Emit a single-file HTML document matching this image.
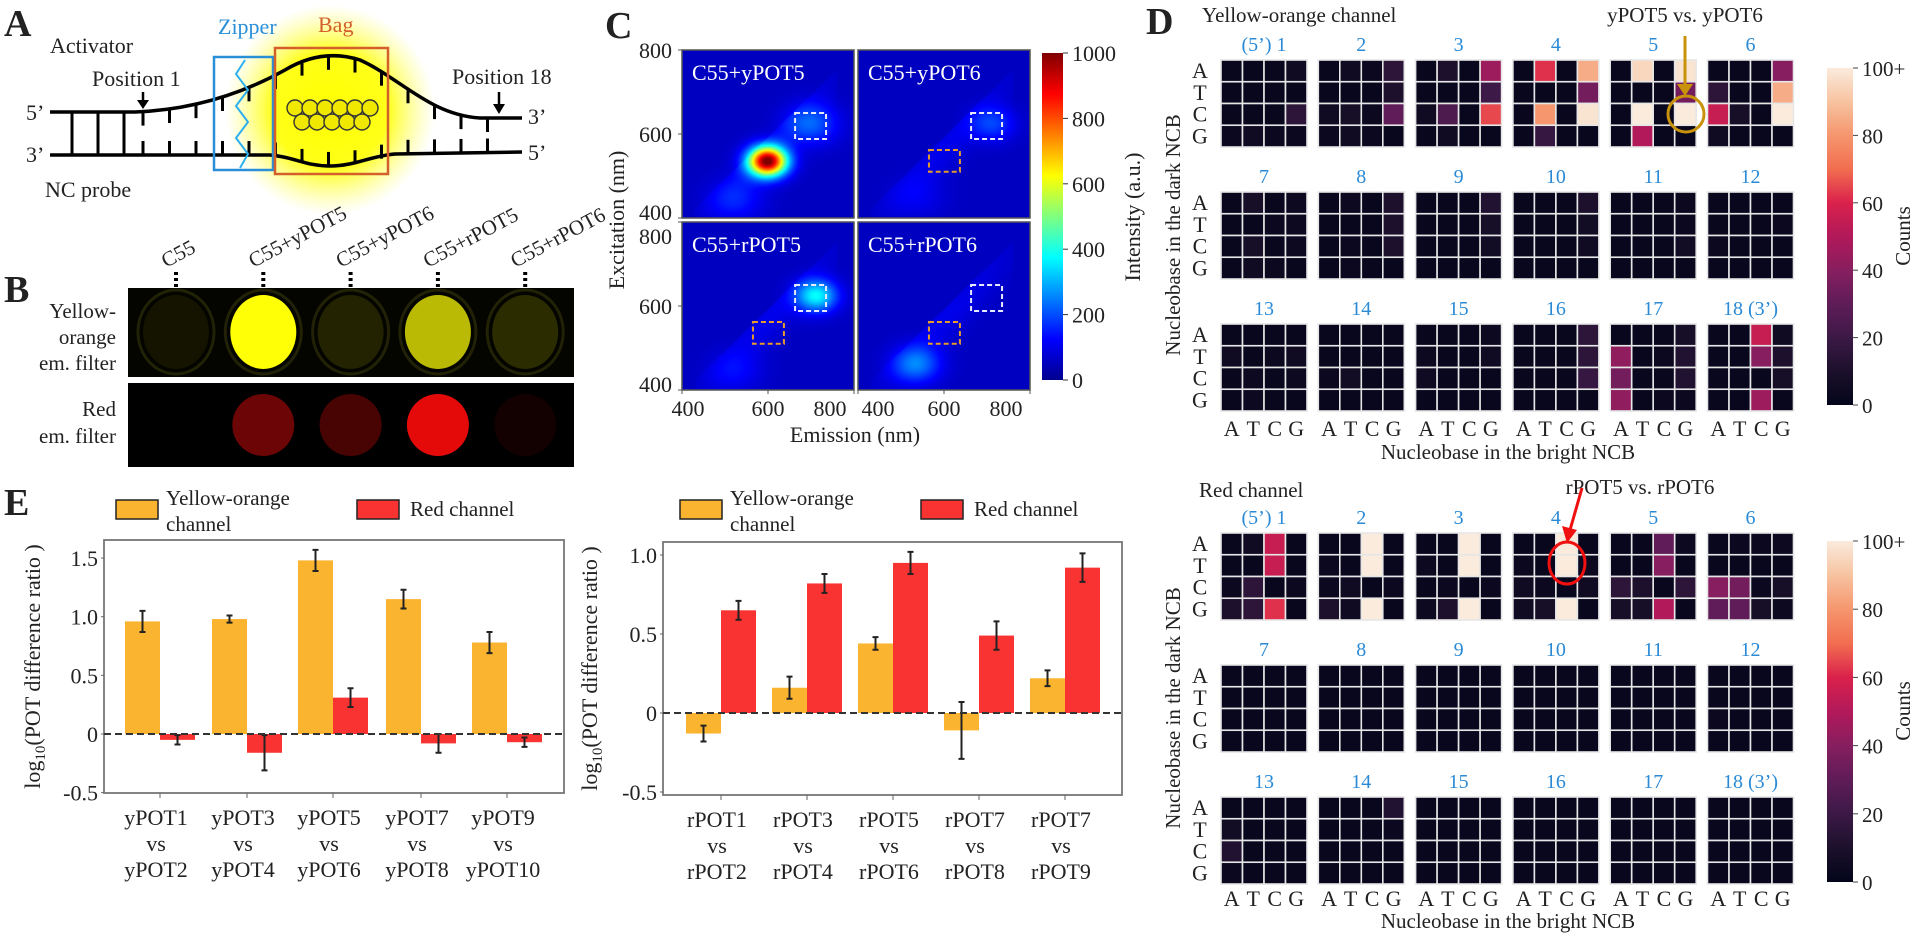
<!DOCTYPE html>
<html><head><meta charset="utf-8"><title>Figure</title>
<style>
html,body{margin:0;padding:0;background:#fff;}
#root{position:relative;width:1920px;height:936px;overflow:hidden;font-family:"Liberation Serif",serif;}
canvas{position:absolute;}
svg{position:absolute;left:0;top:0;}
text{font-family:"Liberation Serif",serif;fill:#222;}
</style></head>
<body>
<div id="root">
<canvas id="c0" width="172" height="168" style="left:682px;top:50px"></canvas>
<canvas id="c1" width="172" height="168" style="left:858px;top:50px"></canvas>
<canvas id="c2" width="172" height="168" style="left:682px;top:222px"></canvas>
<canvas id="c3" width="172" height="168" style="left:858px;top:222px"></canvas>
<svg id="svg" width="1920" height="936" viewBox="0 0 1920 936" xmlns="http://www.w3.org/2000/svg">
<defs>
<radialGradient id="glow"><stop offset="0" stop-color="#ffff00" stop-opacity="1"/><stop offset="0.55" stop-color="#ffff00" stop-opacity="0.9"/><stop offset="1" stop-color="#ffff60" stop-opacity="0"/></radialGradient>
<radialGradient id="yw"><stop offset="0" stop-color="#ffff10"/><stop offset="0.8" stop-color="#f8f400"/><stop offset="1" stop-color="#202000" stop-opacity="0"/></radialGradient>
<linearGradient id="jet" x1="0" y1="1" x2="0" y2="0">
<stop offset="0" stop-color="#00008f"/><stop offset="0.125" stop-color="#0000ff"/><stop offset="0.375" stop-color="#00ffff"/><stop offset="0.625" stop-color="#ffff00"/><stop offset="0.875" stop-color="#ff0000"/><stop offset="1" stop-color="#800000"/></linearGradient>
<linearGradient id="rocket" x1="0" y1="1" x2="0" y2="0">
<stop offset="0" stop-color="rgb(3,5,26)"/><stop offset="0.1" stop-color="rgb(28,16,44)"/><stop offset="0.2" stop-color="rgb(60,25,70)"/><stop offset="0.3" stop-color="rgb(95,28,88)"/><stop offset="0.4" stop-color="rgb(135,30,95)"/><stop offset="0.5" stop-color="rgb(178,25,90)"/><stop offset="0.6" stop-color="rgb(218,33,75)"/><stop offset="0.7" stop-color="rgb(242,110,80)"/><stop offset="0.8" stop-color="rgb(245,150,110)"/><stop offset="0.9" stop-color="rgb(247,195,160)"/><stop offset="1" stop-color="rgb(250,235,221)"/></linearGradient>
</defs>

<!-- PANEL A -->
<g>
<text x="4" y="36" font-size="38" font-weight="bold" fill="#000">A</text>
<circle cx="330" cy="110" r="105" fill="url(#glow)"/>
<text x="50" y="53" font-size="22">Activator</text>
<text x="92" y="86" font-size="22">Position 1</text>
<path d="M143,92 L143,104" stroke="#000" stroke-width="2.5"/><path d="M137,100 L149,100 L143,109 Z" fill="#000"/>
<text x="452" y="84" font-size="22">Position 18</text>
<path d="M499,92 L499,110" stroke="#000" stroke-width="2.5"/><path d="M493,104 L505,104 L499,114 Z" fill="#000"/>
<text x="26" y="120" font-size="22">5’</text>
<text x="26" y="162" font-size="22">3’</text>
<text x="528" y="124" font-size="22">3’</text>
<text x="528" y="160" font-size="22">5’</text>
<text x="45" y="197" font-size="22">NC probe</text>
<path id="topStrand" d="M50,112 L135,112 C190,110 240,95 285,70 C310,55 335,52 360,60 C400,78 430,115 480,118 L522,118" fill="none" stroke="#000" stroke-width="3.5"/>
<path d="M50,155 L270,155 C295,157 305,166 330,166 C355,166 370,156 395,154 L522,152" fill="none" stroke="#000" stroke-width="3.5"/>
<g id="rungs" stroke="#000" stroke-width="3"></g>
<g id="balls"></g>
<rect x="214" y="57" width="59" height="113" fill="none" stroke="#2b8fd8" stroke-width="2.5"/>
<path d="M245,60 L236,74 L248,90 L236,106 L248,122 L236,138 L248,154 L240,168" fill="none" stroke="#2db0ef" stroke-width="2"/>
<text x="218" y="34" font-size="22" fill="#2b8fd8" style="fill:#2b8fd8">Zipper</text>
<rect x="275" y="48" width="113" height="126" fill="none" stroke="#d35f2a" stroke-width="2.5"/>
<text x="318" y="32" font-size="22" style="fill:#d35f2a">Bag</text>
</g>

<!-- PANEL B -->
<g>
<text x="4" y="302" font-size="38" font-weight="bold" fill="#000">B</text>
<rect x="128" y="288" width="446" height="89" fill="#050500"/>
<rect x="128" y="383" width="446" height="84" fill="#000"/>
<g id="wells"></g>
<g id="wellLabels"></g>
<text font-size="21" text-anchor="end"><tspan x="116" y="318">Yellow-</tspan><tspan x="116" y="344">orange</tspan><tspan x="116" y="370">em. filter</tspan></text>
<text font-size="21" text-anchor="end"><tspan x="116" y="416">Red</tspan><tspan x="116" y="443">em. filter</tspan></text>
</g>

<!-- PANEL C -->
<g>
<text x="605" y="38" font-size="38" font-weight="bold" fill="#000">C</text>
<g id="cOverlay"></g>
<rect x="1042" y="53" width="21" height="327" fill="url(#jet)"/>
<g id="cbarC"></g>
<text transform="translate(1140,217) rotate(-90)" text-anchor="middle" font-size="22">Intensity (a.u.)</text>
<text transform="translate(624,220) rotate(-90)" text-anchor="middle" font-size="22">Excitation (nm)</text>
<text x="855" y="442" text-anchor="middle" font-size="22">Emission (nm)</text>
</g>

<!-- PANEL D -->
<g>
<text x="1146" y="34" font-size="38" font-weight="bold" fill="#000">D</text>
<text x="1202" y="22" font-size="21">Yellow-orange channel</text>
<text x="1685" y="22" font-size="21" text-anchor="middle">yPOT5 vs. yPOT6</text>
<text x="1199" y="497" font-size="21">Red channel</text>
<text x="1640" y="494" font-size="21" text-anchor="middle">rPOT5 vs. rPOT6</text>
<g id="heatTop"></g>
<g id="heatBot"></g>
<text transform="translate(1180,235) rotate(-90)" text-anchor="middle" font-size="21">Nucleobase in the dark NCB</text>
<text transform="translate(1180,708) rotate(-90)" text-anchor="middle" font-size="21">Nucleobase in the dark NCB</text>
<text x="1508" y="459" text-anchor="middle" font-size="21">Nucleobase in the bright NCB</text>
<text x="1508" y="928" text-anchor="middle" font-size="21">Nucleobase in the bright NCB</text>
<rect x="1827" y="68" width="26" height="337" fill="url(#rocket)"/>
<rect x="1827" y="541" width="26" height="341" fill="url(#rocket)"/>
<g id="cbarD"></g>
<text transform="translate(1910,236) rotate(-90)" text-anchor="middle" font-size="21">Counts</text>
<text transform="translate(1910,711) rotate(-90)" text-anchor="middle" font-size="21">Counts</text>
<path d="M1685,36 L1685,88" stroke="#c8920a" stroke-width="3"/><path d="M1677,84 L1693,84 L1685,96 Z" fill="#c8920a"/>
<circle cx="1686" cy="114" r="18" fill="none" stroke="#c8920a" stroke-width="3"/>
<path d="M1582,488 L1570,530" stroke="#f01010" stroke-width="3"/><path d="M1562,526 L1577,530 L1567,543 Z" fill="#f01010"/>
<ellipse cx="1567" cy="563" rx="18" ry="21" fill="none" stroke="#f01010" stroke-width="3"/>
</g>

<!-- PANEL E -->
<g>
<text x="4" y="515" font-size="38" font-weight="bold" fill="#000">E</text>
<g id="eLeft"></g>
<g id="eRight"></g>
</g>
</svg>
</div>
<script>
// ===== Panel E data =====
const leftCats = [["yPOT1","vs","yPOT2"],["yPOT3","vs","yPOT4"],["yPOT5","vs","yPOT6"],["yPOT7","vs","yPOT8"],["yPOT9","vs","yPOT10"]];
const leftYellow = [0.96, 0.98, 1.48, 1.15, 0.78];
const leftYellowErr = [0.09, 0.03, 0.09, 0.08, 0.09];
const leftRed = [-0.05, -0.16, 0.31, -0.08, -0.07];
const leftRedErr = [0.04, 0.15, 0.08, 0.08, 0.04];
const leftTicks = [1.5, 1.0, 0.5, 0, -0.5];
const leftTickLabels = ["1.5","1.0","0.5","0","-0.5"];
const rightCats = [["rPOT1","vs","rPOT2"],["rPOT3","vs","rPOT4"],["rPOT5","vs","rPOT6"],["rPOT7","vs","rPOT8"],["rPOT7","vs","rPOT9"]];
const rightYellow = [-0.13, 0.16, 0.44, -0.11, 0.22];
const rightYellowErr = [0.05, 0.07, 0.04, 0.18, 0.05];
const rightRed = [0.65, 0.82, 0.95, 0.49, 0.92];
const rightRedErr = [0.06, 0.06, 0.07, 0.09, 0.09];
const rightTicks = [1.0, 0.5, 0, -0.5];
const rightTickLabels = ["1.0","0.5","0","-0.5"];

// ===== Panel D data (counts, rows A,T,C,G x cols A,T,C,G) =====
const moduleLabels = ["(5’) 1","2","3","4","5","6","7","8","9","10","11","12","13","14","15","16","17","18 (3’)"];
const baseLetters = ["A","T","C","G"];
const yellowCounts = [
[2,2,2,5, 2,2,2,2, 2,2,2,15, 3,5,3,3],
[2,5,3,15, 2,2,2,10, 5,8,3,30, 3,5,3,2],
[2,10,2,45, 2,2,2,20, 5,25,2,65, 2,5,2,2],
[2,62,2,85, 2,2,2,35, 2,80,2,98, 2,18,2,2],
[2,95,2,98, 2,2,2,35, 2,100,2,100, 2,50,2,2],
[2,2,2,40, 15,2,2,85, 55,8,2,100, 5,2,2,2],
[2,8,2,4, 2,2,3,4, 2,8,2,4, 2,5,3,2],
[2,4,2,10, 2,2,2,10, 2,3,2,10, 2,3,2,2],
[2,2,2,12, 2,2,2,8, 2,2,2,6, 2,2,2,2],
[2,2,2,10, 2,2,2,6, 2,2,2,5, 2,2,2,2],
[2,2,2,3, 2,2,2,3, 2,2,2,6, 2,2,2,2],
[2,2,2,2, 2,2,2,3, 3,2,2,2, 2,2,2,2],
[2,2,2,2, 5,2,3,5, 2,4,2,4, 2,4,2,2],
[2,2,2,2, 2,2,2,2, 3,6,2,2, 2,2,2,2],
[2,2,2,4, 4,2,2,5, 5,2,2,2, 2,2,2,2],
[2,2,2,15, 2,2,2,15, 2,2,2,18, 2,2,2,2],
[2,2,2,8, 42,2,3,12, 35,2,2,12, 42,2,3,3],
[2,2,55,5, 2,2,40,10, 2,2,2,8, 2,2,45,2]];
const redCounts = [
[2,5,55,2, 2,2,55,2, 3,15,2,3, 10,15,62,2],
[2,2,100,2, 3,2,100,2, 3,5,2,3, 10,5,100,2],
[2,2,100,2, 4,2,100,2, 2,3,2,3, 4,10,100,2],
[2,2,100,2, 3,2,100,3, 5,3,2,5, 5,8,100,2],
[2,2,30,4, 2,2,40,2, 15,10,2,15, 8,8,50,2],
[2,3,3,4, 2,2,2,2, 40,35,3,8, 30,30,8,4],
[2,2,2,2, 2,2,2,2, 2,2,2,2, 2,2,2,2],
[2,2,2,2, 2,2,2,2, 2,2,2,2, 2,2,2,2],
[2,2,2,2, 2,2,2,2, 2,2,2,2, 2,2,2,2],
[2,2,2,2, 2,2,2,2, 2,2,2,2, 2,2,2,2],
[2,2,2,2, 2,2,2,2, 2,2,2,2, 2,2,2,2],
[2,2,2,2, 2,2,2,2, 3,2,2,2, 2,2,2,2],
[2,2,2,2, 6,2,2,2, 12,2,2,2, 3,2,2,2],
[2,2,2,12, 2,2,2,3, 2,2,2,2, 2,2,2,2],
[2,2,2,2, 2,2,2,2, 2,2,2,2, 2,2,2,2],
[2,2,2,2, 2,2,2,2, 2,2,2,2, 2,2,2,2],
[2,2,2,2, 2,2,2,2, 2,2,2,2, 2,2,2,2],
[2,2,2,2, 2,2,2,2, 2,2,2,2, 2,2,2,2]];
const countTicks = [0,20,40,60,80,100];
const countTickLabels = ["0","20","40","60","80","100+"];

// ===== Panel C data: spots [emission nm, excitation nm, intensity, sigma nm] =====
const eemTitles = ["C55+yPOT5","C55+yPOT6","C55+rPOT5","C55+rPOT6"];
const eemSpotsEm = [[598,700,525],[712,540],[712,525],[535]];
const eemSpotsEx = [[536,625,445],[625,450],[625,445],[462]];
const eemSpotsI = [[1000,160,90],[130,45],[330,60],[190]];
const eemSpotsS = [[28,38,40],[32,40],[30,40],[35]];
const eemBoxesWhite = [[663,735,588,650],[663,735,588,650],[663,735,588,650],[663,735,588,650]];
const eemBoxesOrange = [[565,637,510,562],[565,637,510,562],[565,637,510,562],[565,637,510,562]];
const intensityTicks = [0,200,400,600,800,1000];

// ===== Panel B data: well brightness =====
const wellNames = ["C55","C55+yPOT5","C55+yPOT6","C55+rPOT5","C55+rPOT6"];
const yellowWell = [0.04, 1.0, 0.1, 0.72, 0.14];
const redWell = [0.0, 0.45, 0.3, 0.95, 0.08];

const NS = "http://www.w3.org/2000/svg";
function mk(tag, attrs, parent){const e=document.createElementNS(NS,tag);for(const k in attrs)e.setAttribute(k,attrs[k]);if(parent)parent.appendChild(e);return e;}
function txt(s, attrs, parent){const e=mk("text",attrs,parent);e.textContent=s;return e;}

// ---- Panel A rungs ----
(function(){
  const g=document.getElementById("rungs");
  const tp=document.getElementById("topStrand");
  const L=tp.getTotalLength();
  function topY(x){let lo=0,hi=L;for(let i=0;i<30;i++){const m=(lo+hi)/2;if(tp.getPointAtLength(m).x<x)lo=m;else hi=m;}return tp.getPointAtLength(lo).y;}
  function botY(x){if(x<270)return 155;if(x<395){const t=(x-270)/125;return 155+11*Math.sin(Math.PI*t);}return 154-(x-395)*0.016;}
  [72,98,124].forEach(x=>{const r=mk("line",{x1:x,y1:112,x2:x,y2:155},g);
    
    });
  for(let x=143;x<=505;x+=26.5){
    const ty=topY(x), by=botY(x);
    const a=mk("line",{x1:x,y1:ty,x2:x,y2:ty+14},g);
    
    
    const b=mk("line",{x1:x,y1:by,x2:x,y2:by-14},g);
    
    
  }
  const bg=document.getElementById("balls");
  [[295,108],[310,108],[325,108],[340,108],[355,108],[370,108],[302,122],[317,122],[332,122],[347,122],[362,122]].forEach(p=>{
    const c=mk("circle",{cx:p[0],cy:p[1],r:8,fill:"#f0e800",stroke:"#333","stroke-width":1.4},bg);
    
    
  });
})();

// ---- Panel B wells ----
(function(){
  const g=document.getElementById("wells"), lg=document.getElementById("wellLabels");
  const cx0=176, step=87.3;
  wellNames.forEach((n,i)=>{
    const cx=cx0+i*step;
    const yv=yellowWell[i];
    const ring=mk("ellipse",{cx:cx,cy:332,rx:38,ry:42,fill:"none",stroke:"rgba(90,90,20,0.35)","stroke-width":3},g);
    
    
    const yc=mk("ellipse",{cx:cx,cy:332,rx:33,ry:37,fill:`rgb(${Math.round(10+245*yv)},${Math.round(10+245*yv)},${Math.round(5*yv)})`},g);
    
    
    const rv=redWell[i];
    const rc=mk("circle",{cx:cx,cy:425,r:31,fill:`rgb(${Math.round(240*rv)},${Math.round(10*rv)},${Math.round(10*rv)})`},g);
    
    
    const t=txt(n,{x:0,y:0,"font-size":21,transform:`translate(${cx+6},${268}) rotate(-28)`,"text-anchor":"start"},lg);
    t.setAttribute("transform",`translate(${cx-10},${268}) rotate(-28)`);
    
    
    const d=mk("line",{x1:cx,y1:272,x2:cx,y2:287,stroke:"#000","stroke-width":4,"stroke-dasharray":"3,3"},lg);
    
    
  });
})();

// ---- Panel C ----
function jet(v){v=Math.max(0,Math.min(1,v));
  const r=Math.min(1,Math.max(0,1.5-Math.abs(4*v-3))), g=Math.min(1,Math.max(0,1.5-Math.abs(4*v-2))), b=Math.min(1,Math.max(0,1.5-Math.abs(4*v-1)));
  return [r*255,g*255,b*255];}
const subRects=[[682,50],[858,50],[682,222],[858,222]];
const SW=172, SH=168;
function exPx(nm,i){return subRects[i][0]+(nm-400)/400*SW;}
function eyPx(nm,i){return subRects[i][1]+(800-nm)/400*SH;}
(function(){
  for(let i=0;i<4;i++){
    const cv=document.getElementById("c"+i), ctx=cv.getContext("2d");
    const im=ctx.createImageData(SW,SH);
    for(let py=0;py<SH;py++)for(let px=0;px<SW;px++){
      const em=400+px/SW*400, ex=800-py/SH*400;
      let v=25;
      const d=(em-ex)-30;
      if(em>430&&em<760&&ex<em-5) v+=45*Math.exp(-(d*d)/(2*45*45))*Math.exp(-Math.pow((em-600)/150,2));
      for(let k=0;k<eemSpotsEm[i].length;k++){
        const dx=em-eemSpotsEm[i][k], dy=ex-eemSpotsEx[i][k], s=eemSpotsS[i][k];
        v+=eemSpotsI[i][k]*Math.exp(-(dx*dx*0.8+dy*dy*1.3)/(2*s*s));
      }
      const c=jet(v/1000*0.93+0.04);
      const o=(py*SW+px)*4; im.data[o]=c[0];im.data[o+1]=c[1];im.data[o+2]=c[2];im.data[o+3]=255;
    }
    ctx.putImageData(im,0,0);
  }
  const g=document.getElementById("cOverlay");
  for(let i=0;i<4;i++){
    const [x0,y0]=subRects[i];
    const fr=mk("rect",{x:x0,y:y0,width:SW,height:SH,fill:"none",stroke:"#555","stroke-width":1.5},g);
    
    
    const t=txt(eemTitles[i],{x:x0+10,y:y0+30,"font-size":22,style:"fill:#fff"},g);
    
    
    const w=eemBoxesWhite[i];
    const wb=mk("rect",{x:exPx(w[0],i),y:eyPx(w[3],i),width:exPx(w[1],i)-exPx(w[0],i),height:eyPx(w[2],i)-eyPx(w[3],i),fill:"none",stroke:"#e8e8ff","stroke-width":2,"stroke-dasharray":"5,3"},g);
    
    
    if(i>0){const o=eemBoxesOrange[i];
      const ob=mk("rect",{x:exPx(o[0],i),y:eyPx(o[3],i),width:exPx(o[1],i)-exPx(o[0],i),height:eyPx(o[2],i)-eyPx(o[3],i),fill:"none",stroke:"#e89a2a","stroke-width":2,"stroke-dasharray":"5,3"},g);
      
      }
    if(i%2===0){
      [[800,-1],[600,0],[400,1]].forEach(([nm,sh])=>{
        const yy=eyPx(nm,i)+8+(i===0&&nm===400?-6:0)+(i===2&&nm===800?14:0)+(i===2&&nm===400?-6:0);
        const tl=txt(String(nm),{x:x0-10,y:yy,"font-size":22,"text-anchor":"end"},g);
        
        
        mk("line",{x1:x0-4,y1:eyPx(nm,i),x2:x0,y2:eyPx(nm,i),stroke:"#555"},g);
      });
    }
    if(i>=2){
      [[400,6],[600,0],[800,-24]].forEach(([nm,sh])=>{
        const tl=txt(String(nm),{x:exPx(nm,i)+sh+(i===3&&nm===400?14:0),y:416,"font-size":22,"text-anchor":"middle"},g);
        
        
        mk("line",{x1:exPx(nm,i),y1:390,x2:exPx(nm,i),y2:394,stroke:"#555"},g);
      });
    }
  }
  const cb=document.getElementById("cbarC");
  intensityTicks.forEach(v=>{
    const y=380-v/1000*327;
    mk("line",{x1:1063,y1:y,x2:1068,y2:y,stroke:"#333"},cb);
    const t=txt(String(v),{x:1072,y:y+8,"font-size":22},cb);
    
    
  });
})();

// ---- Panel D ----
const rocketStops=[[0,[3,5,26]],[0.1,[28,16,44]],[0.2,[60,25,70]],[0.3,[95,28,88]],[0.4,[135,30,95]],[0.5,[178,25,90]],[0.6,[218,33,75]],[0.7,[242,110,80]],[0.8,[245,150,110]],[0.9,[247,195,160]],[1,[250,235,221]]];
function rocket(v){v=Math.max(0,Math.min(1,v));
  for(let i=1;i<rocketStops.length;i++){if(v<=rocketStops[i][0]){const[a,ca]=rocketStops[i-1],[b,cb]=rocketStops[i];const t=(v-a)/(b-a);
    return `rgb(${Math.round(ca[0]+(cb[0]-ca[0])*t)},${Math.round(ca[1]+(cb[1]-ca[1])*t)},${Math.round(ca[2]+(cb[2]-ca[2])*t)})`;}}
  return "rgb(250,235,221)";}
function drawHeat(gid, counts, rowTops, xLabelY, chan){
  const g=document.getElementById(gid);
  const mx=i=>1221+i*97.3, cw=21.5, ch=21.75;
  counts.forEach((vals,m)=>{
    const col=m%6,row=Math.floor(m/6);
    const x0=mx(col), y0=rowTops[row];
    const lab=txt(moduleLabels[m],{x:x0+43,y:y0-9,"font-size":20,"text-anchor":"middle",style:"fill:#2a8ad6"},g);
    
    
    vals.forEach((v,k)=>{
      const r=Math.floor(k/4), c=k%4;
      const cell=mk("rect",{x:x0+c*cw,y:y0+r*ch,width:cw,height:ch,fill:rocket(v/100),stroke:"#e6e6e6","stroke-width":1.6},g);
      
      
    });
    if(col===0){baseLetters.forEach((b,r)=>{
      const t=txt(b,{x:1200,y:y0+r*ch+18,"font-size":22,"text-anchor":"middle"},g);
      
      });}
    if(row===2){baseLetters.forEach((b,c)=>{
      const t=txt(b,{x:x0+c*cw+cw/2,y:xLabelY,"font-size":22,"text-anchor":"middle"},g);
      
      });}
  });
}
drawHeat("heatTop", yellowCounts, [60,192,324], 436, "yellow");
drawHeat("heatBot", redCounts, [533,665,797], 906, "red");
(function(){
  const g=document.getElementById("cbarD");
  [[68,405],[541,882]].forEach(([t,b])=>{
    countTicks.forEach((v,i)=>{
      const y=b-v/100*(b-t);
      mk("line",{x1:1853,y1:y,x2:1858,y2:y,stroke:"#444"},g);
      const tl=txt(countTickLabels[i],{x:1862,y:y+8,"font-size":21},g);
      
      
    });
  });
})();

// ---- Panel E ----
function drawBars(gid, cfg){
  const g=document.getElementById(gid);
  const {box,y0,ppu,cats,yv,ye,rv,re,ticks,tlabels,centers,legX,ylabX}=cfg;
  const Y=v=>y0-v*ppu;
  const bw=35;
  // legend
  const l1=mk("rect",{x:legX,y:500,width:42,height:19,fill:"#fbb430",stroke:"#222","stroke-width":1.5},g);
  
  
  const lt=txt("",{x:legX+50,y:505,"font-size":21},g);
  lt.innerHTML='<tspan x="'+(legX+50)+'" y="505">Yellow-orange</tspan><tspan x="'+(legX+50)+'" y="531">channel</tspan>';
  
  
  const l2=mk("rect",{x:legX+241,y:500,width:42,height:19,fill:"#f93232",stroke:"#222","stroke-width":1.5},g);
  
  
  const lt2=txt("Red channel",{x:legX+294,y:516,"font-size":21},g);
  
  
  const fr=mk("rect",{x:box[0],y:box[1],width:box[2]-box[0],height:box[3]-box[1],fill:"none",stroke:"#777","stroke-width":1.8},g);
  
  
  ticks.forEach((v,i)=>{
    const t=txt(tlabels[i],{x:box[0]-6,y:Y(v)+8,"font-size":22,"text-anchor":"end"},g);
    
    
    mk("line",{x1:box[0]-3,y1:Y(v),x2:box[0],y2:Y(v),stroke:"#666"},g);
  });
  cats.forEach((c,i)=>{
    const cx=centers[i];
    const yb=mk("rect",{x:cx-bw,y:Math.min(Y(0),Y(yv[i])),width:bw,height:Math.abs(Y(yv[i])-Y(0)),fill:"#fbb430"},g);
    
    
    const rb=mk("rect",{x:cx,y:Math.min(Y(0),Y(rv[i])),width:bw,height:Math.abs(Y(rv[i])-Y(0)),fill:"#f93232"},g);
    
    
    [[cx-bw/2,yv[i],ye[i]],[cx+bw/2,rv[i],re[i]]].forEach(([x,v,e])=>{
      const eb=mk("path",{d:`M${x},${Y(v+e)}L${x},${Y(v-e)}M${x-3},${Y(v+e)}L${x+3},${Y(v+e)}M${x-3},${Y(v-e)}L${x+3},${Y(v-e)}`,stroke:"#222","stroke-width":2,fill:"none"},g);
      
      
    });
    mk("line",{x1:cx,y1:box[3],x2:cx,y2:box[3]+5,stroke:"#666"},g);
    c.forEach((s,k)=>{
      const t=txt(s,{x:cx-4,y:box[3]+32+k*26,"font-size":22,"text-anchor":"middle"},g);
      
      
    });
  });
  const z=mk("line",{x1:box[0],y1:Y(0),x2:box[2],y2:Y(0),stroke:"#333","stroke-width":2,"stroke-dasharray":"7,4"},g);
  
  
  const yl=txt("",{transform:`translate(${ylabX},${(box[1]+box[3])/2}) rotate(-90)`,"text-anchor":"middle","font-size":22},g);
  yl.innerHTML='log<tspan font-size="15" dy="5">10</tspan><tspan dy="-5">(POT difference ratio )</tspan>';
  
  
}
drawBars("eLeft",{box:[104,540,564,793],y0:734,ppu:117.3,cats:leftCats,yv:leftYellow,ye:leftYellowErr,rv:leftRed,re:leftRedErr,ticks:leftTicks,tlabels:leftTickLabels,centers:[160,247,333,421,507],legX:116,ylabX:40});
drawBars("eRight",{box:[663,542,1122,795],y0:713,ppu:158,cats:rightCats,yv:rightYellow,ye:rightYellowErr,rv:rightRed,re:rightRedErr,ticks:rightTicks,tlabels:rightTickLabels,centers:[721,807,893,979,1065],legX:680,ylabX:597});
</script>
</body></html>
